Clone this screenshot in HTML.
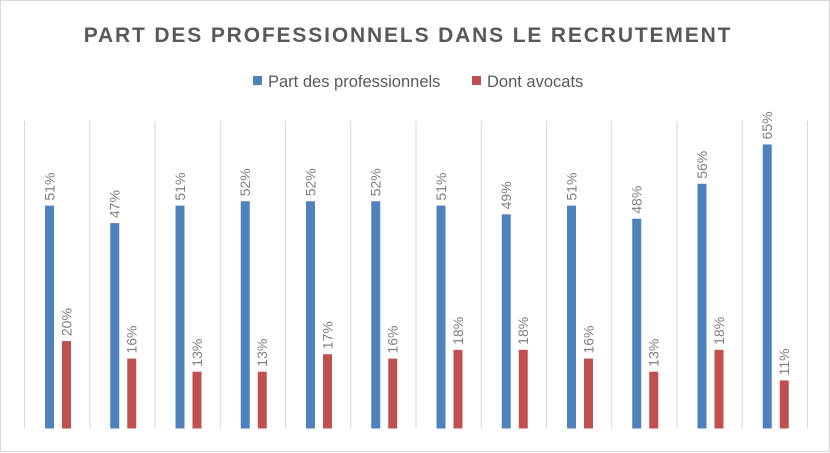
<!DOCTYPE html>
<html><head><meta charset="utf-8"><style>
body{margin:0;background:#fff;}
#c{width:830px;height:452px;position:relative;box-sizing:border-box;border:1px solid #d9d9d9;font-family:"Liberation Sans",sans-serif;}
</style></head><body>
<div id="c">
<svg width="830" height="452" style="position:absolute;left:0;top:0">
<text x="407" y="41" text-anchor="middle" font-size="21" font-weight="bold" letter-spacing="1.85" fill="#595959">PART DES PROFESSIONNELS DANS LE RECRUTEMENT</text>
<g>
<rect x="252" y="75" width="9" height="9" fill="#4f81bd"/>
<text x="267" y="86" font-size="16.5" fill="#595959">Part des professionnels</text>
<rect x="471" y="75" width="9" height="9" fill="#c0504d"/>
<text x="486" y="86" font-size="16.5" fill="#595959">Dont avocats</text>
</g>
<g id="plot"></g>
</svg>
</div>
<script>
const categories=["1","2","3","4","5","6","7","8","9","10","11","12"];
const profValues=[51,47,51,52,52,52,51,49,51,48,56,65];
const avocatValues=[20,16,13,13,17,16,18,18,16,13,18,11];
const plotLeft=23.5,groupW=65.25,bottom=427.5,pxPer=4.37;
const xScale=i=>plotLeft+i*groupW;
const yScale=v=>bottom-v*pxPer;
const g=document.getElementById('plot');
const ns='http://www.w3.org/2000/svg';
function mk(t,a){const e=document.createElementNS(ns,t);for(const k in a)e.setAttribute(k,a[k]);g.appendChild(e);return e;}
for(let i=0;i<=categories.length;i++){
  const l=mk('line',{x1:xScale(i),x2:xScale(i),y1:120,y2:bottom,stroke:'#d9d9d9','stroke-width':1});
  
  
}
function series(vals,off,color,name){
  vals.forEach((v,i)=>{
    const x=xScale(i)+off,y=yScale(v);
    const r=mk('rect',{x:x,y:y,width:9,height:bottom-y,fill:color});
    
    
    const tx=x+4.5+5,ty=y-5;
    const t=mk('text',{x:tx,y:ty,transform:`rotate(-90 ${tx} ${ty})`,'font-size':14,fill:'#7f7f7f'});
    t.textContent=v+'%';
    
    
  });
}
series(profValues,20.5,'#4f81bd','professionnels');
series(avocatValues,37.5,'#c0504d','avocats');
</script>
</body></html>
